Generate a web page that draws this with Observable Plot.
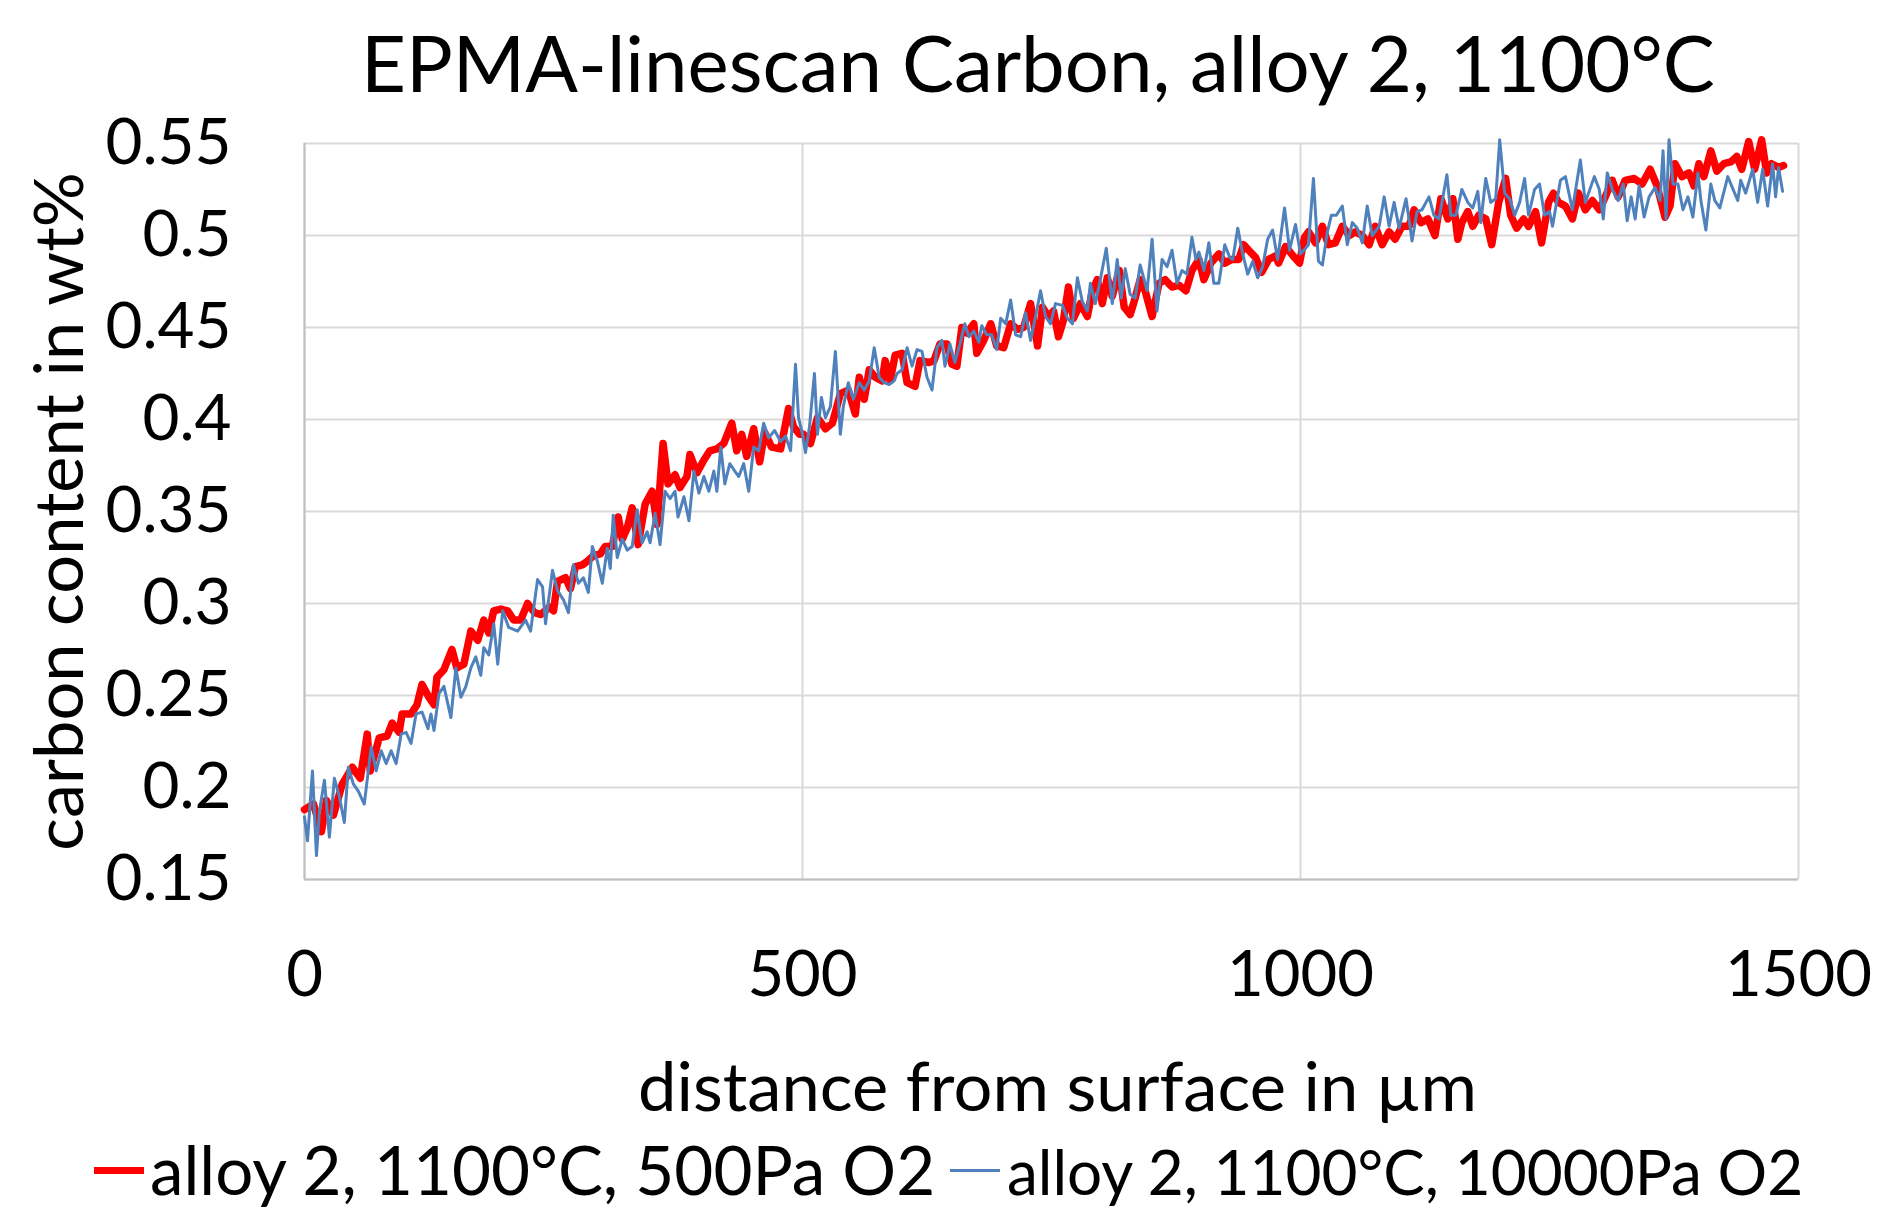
<!DOCTYPE html>
<html>
<head>
<meta charset="utf-8">
<script src="https://cdn.jsdelivr.net/npm/d3@7"></script>
<script src="https://cdn.jsdelivr.net/npm/@observablehq/plot@0.6"></script>
<style>
  html, body { margin: 0; padding: 0; background: #fff; }
  body { position: relative; width: 1885px; height: 1213px; overflow: hidden; font-family: Lato, "Open Sans", sans-serif; color: #000; }
  .abs { position: absolute; white-space: nowrap; line-height: 1.2; }
  .sw { position: absolute; }
</style>
</head>
<body>
<div id="title" class="abs"></div>
<div id="chart"></div>
<div id="legend"></div>
<script>
// ---------------- data ----------------
const titleText = "EPMA-linescan Carbon, alloy 2, 1100°C";
const xLabelText = "distance from surface in µm";
const yLabelText = "carbon content in wt%";
const seriesNames = ["alloy 2, 1100°C, 500Pa O2", "alloy 2, 1100°C, 10000Pa O2"];
const seriesColors = ["#ff0000", "#4f81bd"];

const xTicks = [0, 500, 1000, 1500];
const xTickLabels = ["0", "500", "1000", "1500"];
const yTicks = [0.15, 0.2, 0.25, 0.3, 0.35, 0.4, 0.45, 0.5, 0.55];
const yTickLabels = ["0.15", "0.2", "0.25", "0.3", "0.35", "0.4", "0.45", "0.5", "0.55"];

// [distance µm, carbon wt%]
const scan500Pa = [
[0,.188],[9,.191],[17,.176],[22,.193],[29,.185],[38,.202],[48,.211],[56,.205],[63,.229],[66,.209],
[75,.227],[83,.228],[88,.235],[95,.230],[98,.240],[107,.240],[113,.245],[118,.256],[125,.249],[130,.245],
[133,.260],[140,.264],[148,.275],[153,.265],[160,.267],[167,.285],[174,.280],[180,.291],[185,.284],[190,.296],
[197,.297],[204,.296],[210,.291],[217,.291],[224,.300],[231,.295],[237,.294],[246,.298],[250,.296],[254,.312],
[262,.314],[267,.308],[272,.320],[279,.321],[284,.323],[290,.326],[297,.327],[302,.331],[309,.331],[315,.347],
[319,.335],[324,.341],[329,.352],[335,.332],[342,.354],[349,.361],[354,.343],[360,.387],[365,.365],[372,.370],
[377,.363],[384,.369],[387,.381],[394,.371],[401,.378],[407,.383],[414,.384],[421,.387],[429,.398],[434,.383],
[439,.392],[444,.380],[451,.395],[457,.377],[462,.393],[469,.385],[478,.384],[486,.406],[491,.396],[497,.392],
[501,.392],[508,.387],[515,.401],[523,.395],[530,.398],[538,.414],[546,.416],[553,.403],[557,.423],[562,.411],
[567,.427],[573,.423],[580,.421],[583,.432],[588,.421],[593,.435],[600,.436],[605,.420],[613,.418],[618,.432],
[627,.431],[632,.432],[638,.441],[645,.441],[650,.430],[655,.429],[660,.450],[665,.447],[672,.452],[675,.436],
[682,.443],[689,.452],[695,.440],[702,.439],[709,.452],[716,.449],[722,.450],[729,.463],[736,.440],[741,.461],
[747,.456],[752,.459],[757,.445],[762,.454],[767,.472],[772,.455],[779,.463],[786,.456],[791,.470],[796,.476],
[801,.463],[806,.477],[811,.467],[818,.481],[823,.461],[829,.457],[834,.466],[839,.476],[844,.470],[851,.456],
[858,.474],[864,.476],[871,.472],[878,.473],[885,.470],[891,.481],[898,.487],[903,.476],[910,.485],[918,.490],
[924,.485],[931,.487],[938,.487],[943,.495],[948,.492],[955,.488],[961,.480],[968,.487],[975,.489],[978,.485],
[985,.494],[994,.488],[999,.485],[1004,.499],[1008,.502],[1015,.496],[1022,.505],[1028,.495],[1035,.496],[1042,.505],
[1049,.500],[1055,.502],[1062,.500],[1069,.495],[1075,.505],[1082,.495],[1089,.502],[1095,.498],[1102,.505],[1109,.505],
[1114,.514],[1121,.507],[1128,.509],[1135,.500],[1141,.520],[1148,.509],[1153,.520],[1158,.498],[1162,.507],[1168,.513],
[1173,.505],[1179,.511],[1186,.509],[1192,.495],[1199,.518],[1206,.531],[1211,.511],[1217,.504],[1224,.509],[1229,.505],
[1236,.513],[1242,.496],[1249,.518],[1254,.523],[1259,.518],[1266,.516],[1273,.509],[1279,.523],[1286,.514],[1293,.519],
[1300,.514],[1306,.521],[1313,.530],[1319,.521],[1326,.530],[1335,.531],[1343,.528],[1351,.536],[1358,.527],[1366,.510],
[1371,.516],[1376,.539],[1383,.532],[1390,.534],[1395,.527],[1400,.539],[1405,.532],[1412,.546],[1418,.535],[1425,.539],
[1432,.540],[1438,.543],[1443,.536],[1450,.551],[1456,.536],[1463,.552],[1468,.534],[1473,.539],[1480,.537],[1485,.538]
];

const scan10000Pa = [
[0,.184],[3,.171],[8,.209],[12,.163],[15,.187],[20,.204],[25,.173],[30,.205],[35,.195],[40,.181],
[44,.211],[49,.202],[54,.198],[60,.191],[67,.222],[72,.209],[77,.220],[82,.213],[87,.220],[92,.213],
[97,.229],[102,.230],[107,.224],[112,.240],[118,.241],[124,.232],[127,.240],[130,.231],[135,.251],[140,.255],
[147,.238],[152,.265],[157,.249],[162,.255],[167,.265],[172,.271],[177,.261],[180,.276],[185,.272],[190,.289],
[194,.267],[199,.296],[205,.287],[214,.285],[222,.291],[227,.285],[234,.313],[239,.309],[242,.289],[249,.318],
[254,.307],[260,.302],[265,.295],[270,.321],[275,.311],[280,.314],[285,.306],[289,.331],[294,.323],[299,.311],
[304,.330],[307,.319],[310,.348],[314,.325],[319,.335],[324,.329],[329,.331],[334,.351],[339,.333],[344,.339],
[347,.333],[352,.349],[357,.332],[362,.361],[367,.357],[372,.361],[375,.347],[381,.358],[386,.345],[391,.372],
[396,.360],[401,.369],[406,.361],[411,.372],[414,.361],[418,.385],[422,.365],[427,.376],[432,.372],[436,.369],
[441,.376],[446,.361],[451,.385],[456,.383],[461,.398],[466,.390],[472,.394],[478,.388],[483,.391],[488,.383],
[493,.430],[496,.401],[500,.392],[503,.382],[507,.396],[512,.425],[515,.392],[519,.412],[523,.401],[528,.407],
[533,.437],[538,.392],[541,.407],[546,.420],[551,.411],[557,.420],[562,.416],[567,.421],[572,.439],[577,.423],
[582,.420],[587,.419],[592,.421],[595,.425],[600,.427],[605,.439],[610,.429],[615,.438],[620,.437],[625,.423],
[630,.416],[635,.439],[640,.443],[643,.429],[648,.441],[653,.431],[658,.441],[663,.452],[667,.445],[672,.448],
[677,.442],[680,.451],[685,.446],[690,.446],[695,.438],[699,.455],[704,.452],[709,.465],[714,.446],[719,.445],
[724,.458],[729,.443],[734,.456],[739,.470],[744,.456],[749,.452],[754,.463],[761,.462],[766,.455],[771,.452],
[776,.477],[781,.464],[786,.459],[789,.474],[794,.463],[799,.476],[805,.493],[811,.463],[816,.487],[820,.466],
[824,.482],[829,.468],[834,.466],[839,.484],[846,.470],[851,.498],[856,.459],[861,.487],[866,.483],[871,.492],
[876,.474],[881,.481],[886,.479],[891,.499],[895,.487],[898,.491],[903,.481],[908,.496],[913,.474],[918,.474],
[924,.495],[929,.488],[932,.487],[937,.504],[942,.490],[947,.479],[952,.486],[957,.477],[962,.483],[967,.498],
[972,.503],[977,.487],[984,.515],[989,.492],[995,.506],[1000,.490],[1005,.493],[1008,.495],[1013,.531],[1018,.486],
[1022,.484],[1027,.502],[1031,.511],[1036,.511],[1042,.516],[1047,.495],[1052,.507],[1057,.504],[1062,.496],[1067,.516],
[1072,.500],[1079,.505],[1084,.521],[1089,.505],[1094,.518],[1099,.504],[1106,.520],[1112,.497],[1117,.513],[1122,.514],
[1129,.521],[1134,.511],[1139,.509],[1147,.533],[1151,.511],[1156,.511],[1162,.525],[1168,.518],[1173,.515],[1178,.524],
[1181,.507],[1186,.531],[1191,.518],[1196,.520],[1200,.552],[1205,.523],[1210,.520],[1215,.511],[1220,.518],[1225,.531],
[1229,.511],[1235,.525],[1240,.528],[1245,.511],[1250,.513],[1253,.505],[1261,.530],[1266,.532],[1273,.514],[1281,.541],
[1286,.518],[1295,.532],[1300,.525],[1304,.509],[1308,.534],[1313,.525],[1319,.519],[1324,.528],[1328,.508],[1332,.521],
[1336,.509],[1340,.527],[1345,.510],[1350,.521],[1356,.526],[1361,.519],[1364,.546],[1367,.509],[1370,.552],[1374,.528],
[1379,.528],[1384,.514],[1389,.521],[1394,.510],[1399,.534],[1402,.519],[1407,.503],[1412,.528],[1416,.519],[1421,.515],
[1429,.532],[1439,.519],[1442,.530],[1447,.523],[1454,.536],[1459,.518],[1464,.536],[1469,.516],[1474,.539],[1477,.521],
[1480,.537],[1484,.524]
];

// ---------------- layout ----------------
const FONT = "Lato";
const ctx = document.createElement("canvas").getContext("2d");
function fit(text, target) {
  ctx.font = `100px ${FONT}`;
  return 100 * target / ctx.measureText(text).width;
}
function placeBaseline(el, baseline) {
  const m = document.createElement("span");
  m.style.cssText = "display:inline-block;width:0;height:0;vertical-align:baseline;";
  el.appendChild(m);
  el.style.top = "0px";
  const b = m.offsetTop;
  el.style.top = (baseline - b) + "px";
}

const W = 1885, SVG_TOP = 110, SVG_H = 1030;
const F = {left: 304, right: 1798, top: 143, bottom: 879};

const titleSize = fit(titleText, 1356);
const yTickSize = fit("0.55", 126);
const xTickSize = fit("1000", 147);
const yLabelSize = fit(yLabelText, 680);
const xLabelSize = fit(xLabelText, 839);

// title
const tEl = document.getElementById("title");
tEl.textContent = titleText;
tEl.style.fontSize = titleSize + "px";
tEl.style.fontFamily = FONT;
tEl.style.left = (1039 - 1356 / 2) + "px";
placeBaseline(tEl, 92);

// chart
const xFmt = new Map(xTicks.map((t, i) => [t, xTickLabels[i]]));
const yFmt = new Map(yTicks.map((t, i) => [t, yTickLabels[i]]));
const xTickBaseline = 995;
const xPad = xTickBaseline - F.bottom - 0.71 * xTickSize;

const chart = Plot.plot({
  width: W,
  height: SVG_H,
  marginLeft: F.left,
  marginRight: W - F.right,
  marginTop: F.top - SVG_TOP,
  marginBottom: SVG_TOP + SVG_H - F.bottom,
  style: {fontFamily: FONT, background: "white", overflow: "visible", color: "#000"},
  x: {domain: [0, 1500]},
  y: {domain: [0.15, 0.55]},
  marks: [
    Plot.gridY(yTicks, {stroke: "#d9d9d9", strokeOpacity: 1, strokeWidth: 2}),
    Plot.gridX(xTicks, {stroke: "#d9d9d9", strokeOpacity: 1, strokeWidth: 2}),
    Plot.ruleX([0], {stroke: "#bfbfbf", strokeWidth: 2}),
    Plot.ruleY([0.15], {stroke: "#bfbfbf", strokeWidth: 2}),
    Plot.line(scan500Pa, {x: d => d[0], y: d => d[1], stroke: seriesColors[0], strokeWidth: 7.5, strokeLinejoin: "round", strokeLinecap: "round"}),
    Plot.line(scan10000Pa, {x: d => d[0], y: d => d[1], stroke: seriesColors[1], strokeWidth: 3, strokeLinejoin: "round", strokeLinecap: "round"}),
    Plot.axisX(xTicks, {anchor: "bottom", tickSize: 0, tickPadding: xPad, fontSize: xTickSize, tickFormat: d => xFmt.get(d), label: null}),
    Plot.axisY(yTicks, {anchor: "left", tickSize: 0, tickPadding: F.left - 231, fontSize: yTickSize, tickFormat: d => yFmt.get(d), label: null}),
    Plot.text([yLabelText], {text: d => d, frameAnchor: "left", rotate: -90, dx: 82 - F.left, lineAnchor: "bottom", textAnchor: "middle", fontSize: yLabelSize, fill: "#000"}),
    Plot.text([xLabelText], {text: d => d, frameAnchor: "bottom", dx: 1057 - (F.left + F.right) / 2, dy: 1110 - F.bottom, lineAnchor: "bottom", textAnchor: "middle", fontSize: xLabelSize, fill: "#000"})
  ]
});
chart.style.position = "absolute";
chart.style.left = "0px";
chart.style.top = SVG_TOP + "px";
document.getElementById("chart").appendChild(chart);

// legend
const leg = document.getElementById("legend");
const legItems = [
  {sx: 94, tx: 150, w: 787, h: 7},
  {sx: 950, tx: 1007, w: 798, h: 3}
];
const legBaseline = 1195;
legItems.forEach((it, i) => {
  const sw = document.createElement("div");
  sw.className = "sw";
  sw.style.cssText = `left:${it.sx}px;top:${legBaseline - 25 - it.h / 2}px;width:50px;height:${it.h}px;background:${seriesColors[i]};`;
  leg.appendChild(sw);
  const t = document.createElement("div");
  t.className = "abs";
  t.style.lineHeight = "1";
  t.textContent = seriesNames[i];
  t.style.fontFamily = FONT;
  t.style.fontSize = fit(seriesNames[i], it.w) + "px";
  t.style.left = it.tx + "px";
  leg.appendChild(t);
  placeBaseline(t, legBaseline);
});
</script>
</body>
</html>
